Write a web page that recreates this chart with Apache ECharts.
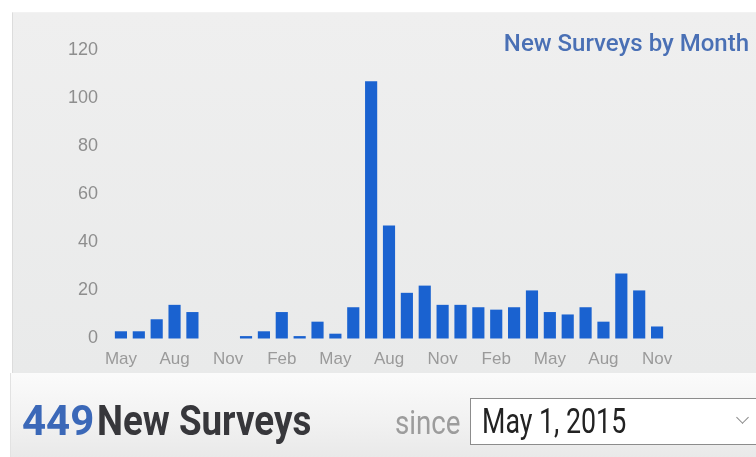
<!DOCTYPE html>
<html>
<head>
<meta charset="utf-8">
<script src="https://cdn.jsdelivr.net/npm/echarts@6/dist/echarts.min.js"></script>
<style>
  html,body{margin:0;padding:0;width:756px;height:457px;overflow:hidden;background:#fff;}
  #panel{position:absolute;left:12px;top:12px;width:744px;height:361px;
    background:linear-gradient(#efefef,#e9eaea);border-left:1px solid #dcdcdc;border-top:1px solid #f2f2f2;}
  #bottom{position:absolute;left:10px;top:373px;width:746px;height:84px;
    background:linear-gradient(#fbfbfb,#f1f1f1 60%,#e9e9e9);border-left:1px solid #e2e2e2;}
  #chart{position:absolute;left:0;top:0;width:756px;height:457px;}
  .big{position:absolute;top:397px;font-family:Roboto,"Liberation Sans",sans-serif;font-weight:bold;font-size:42px;line-height:48px;white-space:nowrap;transform-origin:0 50%;}
  #num{left:22px;color:#3b68b8;}
  #lbl{left:97px;color:#37373b;transform:scaleX(0.875);}
  #since{position:absolute;left:395px;top:403px;font-family:Roboto,"Liberation Sans",sans-serif;font-size:33px;line-height:40px;color:#9c9c9c;transform:scaleX(0.84);transform-origin:0 50%;white-space:nowrap;}
  #sel{position:absolute;left:470px;top:398px;width:300px;height:47px;background:#fff;border:1px solid #8c8c8c;box-sizing:border-box;}
  #selt{position:absolute;left:11px;top:3px;font-family:Roboto,"Liberation Sans",sans-serif;font-size:35px;line-height:40px;color:#222;transform:scaleX(0.765);transform-origin:0 50%;white-space:nowrap;}
  #chev{position:absolute;left:267px;top:14px;width:8px;height:8px;border-right:1.5px solid #888;border-bottom:1.5px solid #888;transform:rotate(45deg);}
</style>
</head>
<body>
<div id="panel"></div>
<div id="bottom"></div>
<div id="chart"></div>
<div class="big" id="num">449</div>
<div class="big" id="lbl">New Surveys</div>
<div id="since">since</div>
<div id="sel"><div id="selt">May 1, 2015</div><div id="chev"></div></div>
<script>
const months = ["May","Jun","Jul","Aug","Sep","Oct","Nov","Dec","Jan","Feb","Mar","Apr",
  "May","Jun","Jul","Aug","Sep","Oct","Nov","Dec","Jan","Feb","Mar","Apr",
  "May","Jun","Jul","Aug","Sep","Oct","Nov"];
const surveys = [3,3,8,14,11,0,0,1,3,11,1,7,2,13,107,47,19,22,14,14,13,12,13,20,11,10,13,7,27,20,5];
const yTicks = [0,20,40,60,80,100,120];
const titleText = "New Surveys by Month";

const chart = echarts.init(document.getElementById('chart'), null, {renderer:'canvas'});
chart.setOption({
  animation:false,
  backgroundColor:'transparent',
  title:{text:titleText,right:2,top:28,textStyle:{fontFamily:'Roboto, sans-serif',fontSize:24,fontWeight:500,color:'#4a70b5'}},
  grid:{left:112,right:90,top:50,bottom:118.5},
  xAxis:{type:'category',data:months,
    axisLine:{show:false},axisTick:{show:false},
    axisLabel:{interval:2,color:'#9a9a9a',fontFamily:'Liberation Sans, sans-serif',fontSize:17,margin:12}},
  yAxis:{type:'value',min:yTicks[0],max:yTicks[yTicks.length-1],interval:20,
    splitLine:{show:false},axisLine:{show:false},axisTick:{show:false},
    axisLabel:{color:'#8e8e8e',fontFamily:'Liberation Sans, sans-serif',fontSize:18,margin:14}},
  series:[{type:'bar',data:surveys,barCategoryGap:'32%',itemStyle:{color:'#1a62d0'}}]
});
</script>
</body>
</html>
